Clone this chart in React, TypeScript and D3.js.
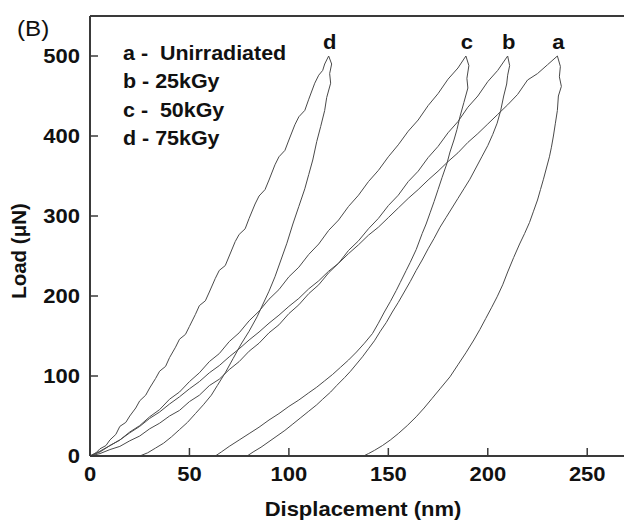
import React from "react";
import * as d3 from "d3";

const xTicks = [0, 50, 100, 150, 200, 250];
const yTicks = [0, 100, 200, 300, 400, 500];
const legendItems = ["a -  Unirradiated", "b - 25kGy", "c -  50kGy", "d - 75kGy"];

type P = [number, number];

const dLoad: P[] = [[0,0],[3,4],[5,9],[8,13],[10,20],[13,27],[15,37],[18,42],[20,50],[23,60],[25,69],[28,76],[30,85],[33,97],[35,106],[38,112],[40,123],[43,136],[45,146],[48,152],[50,162],[53,177],[55,188],[58,194],[60,205],[63,222],[65,232],[68,238],[70,250],[73,268],[75,277],[78,284],[80,297],[83,315],[85,325],[88,333],[90,345],[93,364],[95,374],[98,382],[100,395],[103,414],[105,424],[108,432],[110,446],[113,466],[115,476],[117,482],[118,490],[119,495],[120,500]];
const dUnload: P[] = [[120,500],[121.5,490],[120.5,478],[121,466],[119,448],[118,432],[116,412],[114,393],[112,370],[110,352],[108,334],[105,312],[102,290],[99,266],[96,245],[93,224],[90,206],[87,190],[84,174],[80,156],[76,140],[72,122],[68,104],[64,88],[61,76],[57,64],[53,53],[49,42],[45,33],[41,24],[37,16],[33,10],[29,4],[25,0]];

const cLoad: P[] = [[0,0],[5,5],[10,13],[15,20],[20,30],[25,38],[30,49],[35,58],[40,71],[45,80],[50,93],[55,104],[60,118],[65,128],[70,143],[75,154],[80,169],[85,181],[90,196],[95,208],[100,224],[105,236],[110,252],[115,265],[120,282],[125,295],[130,312],[135,326],[140,343],[145,357],[150,374],[155,389],[160,406],[165,420],[170,438],[175,453],[180,471],[185,485],[189,500]];
const cUnload: P[] = [[189,500],[190.5,488],[189.5,472],[190,460],[188,442],[186,424],[184.5,408],[183,395],[181,380],[179.5,366],[177,348],[175,333],[173,318],[171,304],[169,290],[167,278],[164,258],[161,242],[159,232],[156,217],[154,207],[151,193],[148,180],[145,166],[142,153],[138,141],[134,130],[130,120],[126,111],[122,102],[118,94],[114,86],[110,79],[105,70],[100,62],[95,53],[90,45],[85,36],[80,28],[75,20],[70,12],[66,5],[63,0]];

const bLoad: P[] = [[0,0],[5,3],[10,8],[15,12],[20,19],[25,25],[30,34],[35,41],[40,50],[45,57],[50,68],[55,76],[60,88],[65,96],[70,108],[75,118],[80,131],[85,141],[90,154],[95,164],[100,178],[105,189],[110,203],[115,214],[120,229],[125,241],[130,257],[135,269],[140,284],[145,297],[150,313],[155,326],[160,343],[165,356],[170,373],[175,387],[180,404],[185,418],[190,436],[195,450],[200,468],[205,482],[210,500]];
const bUnload: P[] = [[210,500],[211,488],[210,476],[209.5,465],[208,450],[206.5,432],[204.7,416],[202.5,402],[200,388],[197,374],[194,360],[191,346],[188,334],[185,322],[182,310],[179,298],[176,286],[173,272],[170,259],[167,245],[164,232],[161,218],[158,205],[155,192],[152,180],[149,167],[146,156],[143,144],[140,134],[137,124],[134,115],[131,106],[128,98],[124,88],[121,80],[117,71],[114,64],[110,56],[106,48],[102,40],[98,32],[94,25],[90,18],[86,11],[82,5],[79,0]];

const aLoad: P[] = [[0,0],[5,6],[10,13],[15,20],[20,29],[25,37],[30,47],[35,55],[40,65],[45,74],[50,84],[55,93],[60,104],[65,113],[70,124],[75,134],[80,145],[85,155],[90,166],[95,176],[100,187],[105,197],[110,209],[115,219],[120,231],[125,241],[130,253],[135,264],[140,276],[145,286],[150,298],[155,310],[160,322],[165,333],[170,345],[175,356],[180,368],[185,379],[190,392],[195,403],[200,415],[205,427],[210,439],[215,452],[220,470],[225,478],[230,489],[235,500]];
const aUnload: P[] = [[235,500],[236.5,487],[236,474],[237,462],[235.5,450],[235,432],[234,416],[233,400],[232,386],[231,374],[229.5,360],[228,346],[226.5,333],[225,320],[223,306],[221,292],[218.5,278],[216,265],[213,248],[210,230],[207.5,214],[204.7,199],[202,186],[199,172],[196,158],[193,145],[189,129],[185,114],[181,99],[176,84],[172,72],[168,60],[164,49],[159.5,38],[155,28],[151,20],[147,13],[143,7],[140,3],[137.5,0]];

const series = [
  { label: "a", load: aLoad, unload: aUnload },
  { label: "b", load: bLoad, unload: bUnload },
  { label: "c", load: cLoad, unload: cUnload },
  { label: "d", load: dLoad, unload: dUnload },
];

const W = 624, H = 523;
const left = 90, bottom = 456, top = 16, right = 627;

export default function App() {
  const x = d3.scaleLinear().domain([0, 270]).range([left, right]);
  const y = d3.scaleLinear().domain([0, 550]).range([bottom, top]);
  const line = d3.line<P>().x((d) => x(d[0])).y((d) => y(d[1]));
  const font = "'Liberation Sans', Arial, Helvetica, sans-serif";
  const sx = 1.1;
  const axisColor = "#3a3a3a";
  const textColor = "#111";
  return (
    <svg width={W} height={H} style={{ position: "absolute", left: 0, top: 0, background: "#fff" }} fontFamily={font}>
      {series.map((s) => (
        <g key={s.label}>
          <path d={line(s.load) || ""} fill="none" stroke="#4a4a4a" strokeWidth={1} />
          <path d={line(s.unload) || ""} fill="none" stroke="#4a4a4a" strokeWidth={1} />
        </g>
      ))}
      <line x1={left} x2={left} y1={top} y2={bottom} stroke={axisColor} strokeWidth={2} />
      <line x1={left} x2={right} y1={bottom} y2={bottom} stroke={axisColor} strokeWidth={2} />
      <line x1={left} x2={right} y1={top} y2={top} stroke={axisColor} strokeWidth={2} />
      {xTicks.map((t) => (
        <g key={"x" + t}>
          <line x1={x(t)} x2={x(t)} y1={bottom} y2={bottom - 8} stroke={axisColor} strokeWidth={1.5} />
          <text transform={`translate(${x(t)},481) scale(${sx},1)`} textAnchor="middle" fontWeight="bold" fontSize={20} fill={textColor}>{t}</text>
        </g>
      ))}
      {yTicks.map((t) => (
        <g key={"y" + t}>
          <line x1={left} x2={left + 8} y1={y(t)} y2={y(t)} stroke={axisColor} strokeWidth={1.5} />
          <text transform={`translate(80,${y(t) + 7}) scale(${sx},1)`} textAnchor="end" fontWeight="bold" fontSize={20} fill={textColor}>{t}</text>
        </g>
      ))}
      <text transform={`translate(363,516) scale(${sx},1)`} textAnchor="middle" fontWeight="bold" fontSize={20} fill={textColor}>Displacement (nm)</text>
      <text transform={`translate(26,251) rotate(-90)`} textAnchor="middle" fontWeight="bold" fontSize={20.5} fill={textColor}>Load (μN)</text>
      <text transform={`translate(17,36) scale(${sx},1)`} fontSize={22} fill={textColor}>(B)</text>
      {legendItems.map((t, i) => (
        <text key={t} transform={`translate(123,${59.5 + i * 28.5}) scale(${sx},1)`} fontWeight="bold" fontSize={19.5} fill={textColor} style={{ whiteSpace: "pre" }}>{t}</text>
      ))}
      {series.map((s) => {
        const peak = s.load[s.load.length - 1];
        return (
          <text key={"lbl" + s.label} transform={`translate(${x(peak[0]) + 1},${y(peak[1]) - 7}) scale(${sx},1)`} textAnchor="middle" fontWeight="bold" fontSize={20} fill={textColor}>{s.label}</text>
        );
      })}
    </svg>
  );
}
